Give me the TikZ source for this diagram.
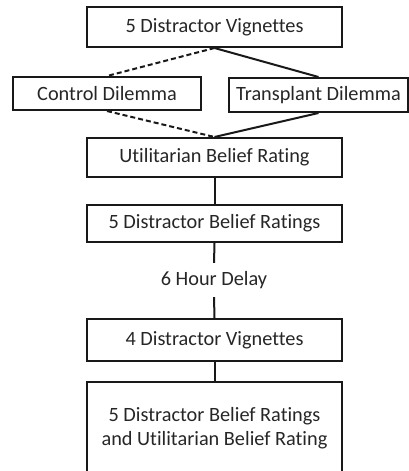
\documentclass[tikz,border=0pt]{standalone}
\usepackage{fontspec}
\setmainfont{Carlito}[Ligatures=NoCommon]
\begin{document}
\begin{tikzpicture}[x=1pt,y=-1pt,
  stepbox/.style={draw=black!90,line width=2pt,inner sep=0pt,font=\fontsize{20.3}{23.5}\selectfont,text=black!85,align=center},
  link/.style={draw=black!90,line width=2pt},
  dlink/.style={link,dash pattern=on 5pt off 3pt}]
\useasboundingbox (0,0) rectangle (409,471);
\clip (0,0) rectangle (409,471);
\node[stepbox,minimum width=255pt,minimum height=40pt] (top) at (214.5,27) {5 Distractor Vignettes};
\node[stepbox,minimum width=188pt,minimum height=33pt] (ctrl) at (107,93.5) {Control Dilemma};
\node[stepbox,minimum width=179pt,minimum height=34pt] (trans) at (318.5,95) {Transplant Dilemma};
\node[stepbox,minimum width=255pt,minimum height=39pt] (util) at (214.5,157.5) {Utilitarian Belief Rating};
\node[stepbox,minimum width=255pt,minimum height=37pt] (dbr) at (214.5,223.5) {5 Distractor Belief Ratings};
\node[inner sep=0pt,minimum height=34pt,font=\fontsize{20.3}{23.5}\selectfont,text=black!85] (delay) at (214,280) {6 Hour Delay};
\node[stepbox,minimum width=255pt,minimum height=42pt] (dv) at (214.5,340) {4 Distractor Vignettes};
\node[stepbox,minimum width=255pt,minimum height=92pt] (final) at (214.5,428) {5 Distractor Belief Ratings\\and Utilitarian Belief Rating};
\draw[dlink] (top.south) -- (ctrl.north);
\draw[link] (top.south) -- (trans.north);
\draw[dlink] (ctrl.south) -- (util.north);
\draw[link] (trans.south) -- (util.north);
\draw[link] (util.south) -- (dbr.north);
\draw[link] (dbr.south) -- (delay.north);
\draw[link] (delay.south) -- (dv.north);
\draw[link] (dv.south) -- (final.north);
\end{tikzpicture}
\end{document}
